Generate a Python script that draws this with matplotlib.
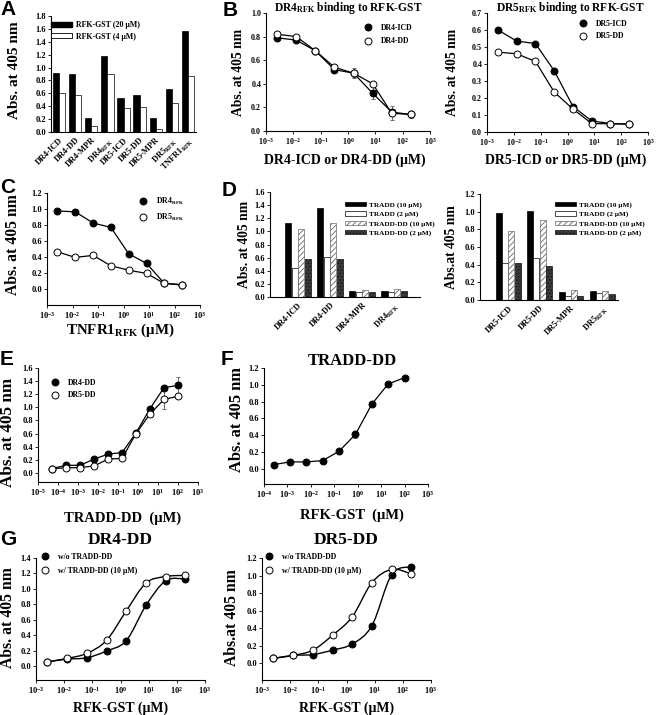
import numpy as np
import matplotlib
matplotlib.use("Agg")
import matplotlib.pyplot as plt
from matplotlib.lines import Line2D
from matplotlib.patches import Patch, PathPatch
from matplotlib.path import Path
from matplotlib.ticker import LogLocator, NullLocator, FormatStrFormatter

W, H = 656, 715

plt.rcParams['font.family'] = 'Liberation Serif'
plt.rcParams['font.weight'] = 'bold'
plt.rcParams['axes.labelweight'] = 'bold'
plt.rcParams['axes.titleweight'] = 'bold'
plt.rcParams['mathtext.fontset'] = 'custom'
plt.rcParams['mathtext.rm'] = 'Liberation Serif:bold'
plt.rcParams['mathtext.it'] = 'Liberation Serif:bold'
plt.rcParams['mathtext.bf'] = 'Liberation Serif:bold'
plt.rcParams['axes.linewidth'] = 0.8
plt.rcParams['hatch.linewidth'] = 0.6

# ---- data ----
# A: binding of targets to RFK-GST
a_targets = ['DR4-ICD', 'DR4-DD', 'DR4-MPR', r'DR4$_{RFK}$', 'DR5-ICD', 'DR5-DD',
             'DR5-MPR', r'DR5$_{RFK}$', r'TNFR1$_{RFK}$']
a_rfk20 = [0.91, 0.90, 0.21, 1.18, 0.52, 0.58, 0.22, 0.66, 1.57]
a_rfk4 = [0.61, 0.58, 0.10, 0.90, 0.38, 0.39, 0.04, 0.45, 0.87]

# 5-fold dilution, uM
conc8 = [0.00256, 0.0128, 0.064, 0.32, 1.6, 8, 40, 200]

# B
b1_icd = [0.79, 0.77, 0.68, 0.52, 0.49, 0.32, 0.16, 0.14]
b1_icd_err = [0.01, 0.01, 0.01, 0.02, 0.03, 0.05, 0.03, 0.02]
b1_dd = [0.82, 0.80, 0.68, 0.54, 0.49, 0.40, 0.15, 0.14]
b1_dd_err = [0.01, 0.01, 0.02, 0.02, 0.04, 0.02, 0.06, 0.03]
b2_icd = [0.60, 0.535, 0.52, 0.36, 0.15, 0.065, 0.05, 0.045]
b2_dd = [0.47, 0.46, 0.415, 0.235, 0.135, 0.05, 0.048, 0.048]

# C
c_dr4 = [0.975, 0.965, 0.825, 0.77, 0.44, 0.32, 0.07, 0.05]
c_dr5 = [0.465, 0.395, 0.42, 0.29, 0.235, 0.195, 0.07, 0.055]

# D
d1_targets = ['DR4-ICD', 'DR4-DD', 'DR4-MPR', r'DR4$_{RFK}$']
d1_tradd10 = [1.13, 1.35, 0.09, 0.09]
d1_tradd2 = [0.445, 0.61, 0.08, 0.08]
d1_tdd10 = [1.04, 1.13, 0.10, 0.125]
d1_tdd2 = [0.585, 0.585, 0.08, 0.085]
d2_targets = ['DR5-ICD', 'DR5-DD', 'DR5-MPR', r'DR5$_{RFK}$']
d2_tradd10 = [0.98, 1.005, 0.09, 0.105]
d2_tradd2 = [0.415, 0.48, 0.05, 0.075]
d2_tdd10 = [0.785, 0.905, 0.115, 0.105]
d2_tdd2 = [0.415, 0.39, 0.05, 0.07]
d_series = ['TRADD (10 μM)', 'TRADD (2 μM)', 'TRADD-DD (10 μM)', 'TRADD-DD (2 μM)']

# E
conc_e = [0.0000512, 0.000256, 0.00128, 0.0064, 0.032, 0.16, 0.8, 4, 20, 100]
e_dr4 = [0.066, 0.115, 0.115, 0.21, 0.285, 0.31, 0.61, 0.98, 1.30, 1.335]
e_dr4_err = [0.01, 0.01, 0.01, 0.01, 0.02, 0.02, 0.03, 0.03, 0.04, 0.12]
e_dr5 = [0.066, 0.076, 0.08, 0.105, 0.21, 0.22, 0.60, 0.90, 1.12, 1.17]
e_dr5_err = [0.01, 0.01, 0.01, 0.01, 0.02, 0.02, 0.03, 0.03, 0.14, 0.03]

# F
conc_f = [0.000256, 0.00128, 0.0064, 0.032, 0.16, 0.8, 4, 20, 100]
f_tdd = [0.05, 0.083, 0.083, 0.098, 0.21, 0.41, 0.77, 1.01, 1.085]
f_err = [0.01, 0.01, 0.01, 0.01, 0.01, 0.04, 0.02, 0.02, 0.02]

# G
g1_wo = [0.056, 0.09, 0.108, 0.195, 0.33, 0.785, 1.105, 1.13]
g1_w = [0.056, 0.10, 0.165, 0.334, 0.715, 1.075, 1.16, 1.175]
g2_wo = [0.057, 0.09, 0.10, 0.15, 0.22, 0.43, 1.01, 1.10]
g2_w = [0.057, 0.09, 0.15, 0.32, 0.53, 0.92, 1.07, 1.02]

fig = plt.figure(figsize=(W / 100, H / 100), dpi=100)


def add_ax(left, top, right, bottom):
    ax = fig.add_axes([left / W, 1 - bottom / H, (right - left) / W, (bottom - top) / H])
    ax.spines['top'].set_visible(False)
    ax.spines['right'].set_visible(False)
    ax.tick_params(direction='out', length=2, width=0.6, labelsize=6, pad=1.5)
    return ax


def fx(px):
    return px / W


def fy(py):
    return 1 - py / H


def ylab(ax, text, xc, yc, size):
    ax.set_ylabel(text, fontsize=size, va='center')
    ax.yaxis.set_label_coords(fx(xc), fy(yc), transform=fig.transFigure)


def xlab(ax, text, xc, yc, size):
    ax.set_xlabel(text, fontsize=size, va='center')
    ax.xaxis.set_label_coords(fx(xc), fy(yc), transform=fig.transFigure)


def title(xc, yc, text, size):
    fig.text(fx(xc), fy(yc), text, fontsize=size, ha='center', va='center')


def letter(x, y, s):
    fig.text(fx(x), fy(y), s, family='Liberation Sans', weight='bold', fontsize=15,
             ha='left', va='top')


def log_x(ax, lo, hi):
    ax.set_xscale('log')
    ax.set_xlim(lo, hi)
    ax.xaxis.set_major_locator(LogLocator(base=10, numticks=20))
    ax.xaxis.set_minor_locator(NullLocator())


def y_ticks(ax, ticks):
    ax.set_yticks(ticks)
    ax.yaxis.set_major_formatter(FormatStrFormatter('%.1f'))


def dot_legend(ax, labels, x, y, size=5.5, spacing=0.6, pad=1.2):
    handles = [Line2D([], [], ls='none', marker='o', ms=5, mfc=c, mec='black', mew=0.7)
               for c in ('black', 'white')]
    ax.legend(handles, labels, loc='upper left', bbox_to_anchor=(fx(x), fy(y)),
              bbox_transform=fig.transFigure, frameon=False, borderpad=0,
              borderaxespad=0, handlelength=1.0, handletextpad=pad,
              labelspacing=spacing, fontsize=size)


def smooth(ax, x, y, **kw):
    # Catmull-Rom line drawn as cubic Bezier segments in log-x space
    lx = np.log10(x)
    yy = np.asarray(y, float)
    px = np.concatenate([[lx[0]], lx, [lx[-1]]])
    py = np.concatenate([[yy[0]], yy, [yy[-1]]])
    verts = [(x[0], yy[0])]
    codes = [Path.MOVETO]
    for j in range(len(lx) - 1):
        c1 = (px[j + 1] + (px[j + 2] - px[j]) / 6, py[j + 1] + (py[j + 2] - py[j]) / 6)
        c2 = (px[j + 2] - (px[j + 3] - px[j + 1]) / 6, py[j + 2] - (py[j + 3] - py[j + 1]) / 6)
        verts += [(10 ** c1[0], c1[1]), (10 ** c2[0], c2[1]), (x[j + 1], yy[j + 1])]
        codes += [Path.CURVE4] * 3
    ax.add_patch(PathPatch(Path(verts, codes), fill=False, **kw))


def dots(ax, x, y, color, err=None, line=True):
    if err is not None:
        ax.errorbar(x, y, yerr=err, fmt='none', ecolor='#555555', elinewidth=0.6,
                    capsize=1.5, capthick=0.6, zorder=2)
    ax.plot(x, y, ls='-' if line else 'none', color='black', lw=0.9, marker='o', ms=5,
            mfc=color, mec='black', mew=0.7, zorder=3)


# ---- A ----
ax = add_ax(51, 16, 196, 132)
xa = np.arange(len(a_targets))
ax.bar(xa - 0.19, a_rfk20, 0.38, color='black', edgecolor='black', lw=0.5)
ax.bar(xa + 0.19, a_rfk4, 0.38, color='white', edgecolor='black', lw=0.5)
ax.set_xlim(-0.5, 8.5)
ax.set_ylim(0, 1.8)
y_ticks(ax, np.arange(0, 1.81, 0.2))
ax.set_xticks(xa)
ax.set_xticklabels(a_targets, rotation=45, ha='right', rotation_mode='anchor', fontsize=6)
ax.tick_params(axis='x', length=0, pad=3)
ylab(ax, 'Abs. at 405 nm', 15, 70, 11)
ax.legend([Patch(fc='black', ec='black'), Patch(fc='white', ec='black', lw=0.6)],
          ['RFK-GST (20 μM)', 'RFK-GST (4 μM)'], loc='upper left',
          bbox_to_anchor=(fx(51), fy(21)), bbox_transform=fig.transFigure,
          frameon=False, borderpad=0, borderaxespad=0, handlelength=2.7,
          handleheight=0.55, handletextpad=0.4, labelspacing=0.45, fontsize=5.7)
letter(0, 0, 'A')

# ---- B ----
ax = add_ax(266, 13, 430, 131)
log_x(ax, 1e-3, 1e3)
ax.set_ylim(0, 1.0)
y_ticks(ax, np.arange(0, 1.01, 0.2))
dots(ax, conc8, b1_icd, 'black', b1_icd_err)
dots(ax, conc8, b1_dd, 'white', b1_dd_err)
ax.tick_params(labelsize=5.8)
ylab(ax, 'Abs. at 405 nm', 238, 72, 9.8)
xlab(ax, 'DR4-ICD or DR4-DD (μM)', 345, 160, 10)
title(348, 8, r'DR4$_{RFK}$ binding to RFK-GST', 8.3)
dot_legend(ax, ['DR4-ICD', 'DR4-DD'], 364, 24, size=5.6, spacing=0.7)
letter(223, 1, 'B')

ax = add_ax(487, 13, 648, 132)
log_x(ax, 1e-3, 1e3)
ax.set_ylim(0, 0.7)
y_ticks(ax, np.arange(0, 0.71, 0.1))
dots(ax, conc8, b2_icd, 'black')
dots(ax, conc8, b2_dd, 'white')
ax.tick_params(labelsize=5.8)
ylab(ax, 'Abs. at 405 nm', 453, 72, 9.8)
xlab(ax, 'DR5-ICD or DR5-DD (μM)', 566, 160, 10)
title(570, 8, r'DR5$_{RFK}$ binding to RFK-GST', 8.3)
dot_legend(ax, ['DR5-ICD', 'DR5-DD'], 579, 20, size=5.6, spacing=0.55)

# ---- C ----
ax = add_ax(47, 193, 200, 305)
log_x(ax, 1e-3, 1e3)
ax.set_ylim(-0.2, 1.2)
y_ticks(ax, np.arange(0, 1.21, 0.2))
dots(ax, conc8, c_dr4, 'black')
dots(ax, conc8, c_dr5, 'white')
ylab(ax, 'Abs. at 405 nm', 13, 245, 11.3)
xlab(ax, r'TNFR1$_{RFK}$ (μM)', 120, 330, 10.8)
dot_legend(ax, [r'DR4$_{RFK}$', r'DR5$_{RFK}$'], 139, 196, size=5.6, spacing=0.55)
letter(0, 178, 'C')

# ---- D ----
def d_panel(rect, xlim, ymax, targets, series, ylabel, ylx, leg_x):
    ax = add_ax(*rect)
    xd = np.arange(len(targets))
    styles = [dict(color='black', edgecolor='black'),
              dict(color='white', edgecolor='black'),
              dict(color='white', edgecolor='#666666', hatch='//////'),
              dict(color='#3a3a3a', edgecolor='#111111', hatch='.....')]
    handles = []
    for k, (vals, st) in enumerate(zip(series, styles)):
        ax.bar(xd + (k - 1.5) * 0.2, vals, 0.19, lw=0.5, **st)
        handles.append(Patch(lw=0.5, **{('facecolor' if key == 'color' else key): v
                                        for key, v in st.items()}))
    ax.set_xlim(*xlim)
    ax.set_ylim(0, ymax)
    y_ticks(ax, np.arange(0, ymax + 0.01, 0.2))
    ax.set_xticks(xd)
    ax.set_xticklabels(targets, rotation=45, ha='right', rotation_mode='anchor', fontsize=6)
    ax.tick_params(axis='x', length=0, pad=3)
    ylab(ax, ylabel, ylx, (rect[1] + rect[3]) / 2, 9.8)
    ax.legend(handles, d_series, loc='upper left', bbox_to_anchor=(fx(leg_x), fy(202)),
              bbox_transform=fig.transFigure, frameon=False, borderpad=0,
              borderaxespad=0, handlelength=2.9, handleheight=0.55, handletextpad=0.4,
              labelspacing=0.45, fontsize=5.2)
    return ax


d_panel((270, 192, 420, 297), (-0.875, 3.81), 1.6, d1_targets,
        [d1_tradd10, d1_tradd2, d1_tdd10, d1_tdd2], 'Abs. at 405 nm', 245, 345)
d_panel((480, 194, 618, 300), (-0.9, 3.5), 1.2, d2_targets,
        [d2_tradd10, d2_tradd2, d2_tdd10, d2_tdd2], 'Abs.at 405 nm', 452, 555)
letter(222, 181, 'D')

# ---- E ----
ax = add_ax(38, 368, 198, 482)
log_x(ax, 1e-5, 1e3)
ax.set_ylim(-0.14, 1.6)
y_ticks(ax, np.arange(0, 1.61, 0.2))
dots(ax, conc_e, e_dr4, 'black', e_dr4_err)
dots(ax, conc_e, e_dr5, 'white', e_dr5_err)
ylab(ax, 'Abs. at 405 nm', 8, 432, 12.3)
xlab(ax, 'TRADD-DD  (μM)', 123, 518, 10.5)
dot_legend(ax, ['DR4-DD', 'DR5-DD'], 51, 379, size=5.6, spacing=0.55)
letter(0, 350, 'E')

# ---- F ----
ax = add_ax(264, 368, 428, 484)
log_x(ax, 1e-4, 1e3)
ax.set_ylim(-0.18, 1.2)
y_ticks(ax, np.arange(0, 1.21, 0.2))
dots(ax, conc_f, f_tdd, 'black', f_err)
ylab(ax, 'Abs. at 405 nm', 237, 420, 11.8)
xlab(ax, 'RFK-GST  (μM)', 352, 515, 10.5)
title(352, 361, 'TRADD-DD', 12)
letter(221, 350, 'F')

# ---- G ----
for rect, wo, w, name, ylabel, ylx, legx in [
        ((36, 558, 205, 680), g1_wo, g1_w, 'DR4-DD', 'Abs. at 405 nm', 8, 41),
        ((262, 558, 431, 680), g2_wo, g2_w, 'DR5-DD', 'Abs.at 405 nm', 232, 265)]:
    ax = add_ax(*rect)
    log_x(ax, 1e-3, 1e3)
    ymax = 1.4 if name == 'DR4-DD' else 1.2
    ax.set_ylim(-0.18 if name == 'DR4-DD' else -0.19, ymax)
    y_ticks(ax, np.arange(0, ymax + 0.01, 0.2))
    smooth(ax, conc8, wo, color='black', lw=1.0, zorder=2)
    smooth(ax, conc8, w, color='black', lw=1.0, zorder=2)
    dots(ax, conc8, wo, 'black', line=False)
    dots(ax, conc8, w, 'white', line=False)
    ylab(ax, ylabel, ylx, 618, 11.3)
    xc = (rect[0] + rect[2]) / 2
    xlab(ax, 'RFK-GST (μM)', xc, 708, 10)
    title(xc, 540, name, 12.5)
    dot_legend(ax, ['w/o TRADD-DD', 'w/ TRADD-DD (10 μM)'], legx, 553, size=5.6,
               spacing=0.75)
letter(0, 530, 'G')

fig.savefig('out.png', dpi=100)
